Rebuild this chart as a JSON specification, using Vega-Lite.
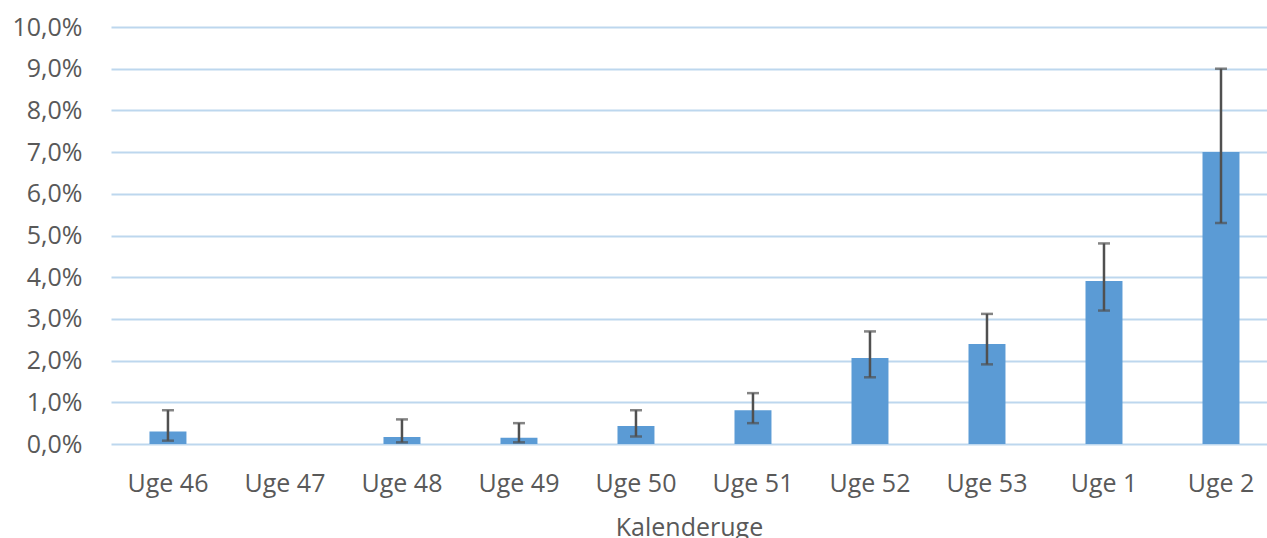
{
  "$schema": "https://vega.github.io/schema/vega-lite/v6.json",
  "autosize": "none",
  "width": 1156,
  "height": 417,
  "padding": {"left": 111, "top": 27, "right": 0, "bottom": 94},
  "background": "white",
  "data": {
    "values": [
      {"uge": "Uge 46", "andel": 0.0030, "lo": 0.0008, "hi": 0.0081},
      {"uge": "Uge 47", "andel": 0.0, "lo": null, "hi": null},
      {"uge": "Uge 48", "andel": 0.0017, "lo": 0.0004, "hi": 0.0059},
      {"uge": "Uge 49", "andel": 0.0015, "lo": 0.0004, "hi": 0.0050},
      {"uge": "Uge 50", "andel": 0.0043, "lo": 0.0018, "hi": 0.0081},
      {"uge": "Uge 51", "andel": 0.0081, "lo": 0.0050, "hi": 0.0122},
      {"uge": "Uge 52", "andel": 0.0206, "lo": 0.0160, "hi": 0.0270},
      {"uge": "Uge 53", "andel": 0.0240, "lo": 0.0191, "hi": 0.0312},
      {"uge": "Uge 1", "andel": 0.0391, "lo": 0.0320, "hi": 0.0481},
      {"uge": "Uge 2", "andel": 0.0700, "lo": 0.0530, "hi": 0.0900}
    ]
  },
  "encoding": {
    "x": {
      "field": "uge",
      "type": "nominal",
      "sort": null,
      "title": "Kalenderuge",
      "scale": {"paddingInner": 0.684, "paddingOuter": 0.282, "align": 0.583},
      "axis": {
        "labelAngle": 0,
        "ticks": false,
        "domain": false,
        "labelPadding": 27,
        "titlePadding": 19
      }
    }
  },
  "layer": [
    {
      "mark": {"type": "bar", "color": "#5b9bd5"},
      "encoding": {
        "y": {
          "field": "andel",
          "type": "quantitative",
          "title": null,
          "scale": {"domain": [0, 0.1], "nice": false},
          "axis": {
            "values": [0, 0.01, 0.02, 0.03, 0.04, 0.05, 0.06, 0.07, 0.08, 0.09, 0.1],
            "labelExpr": "replace(format(datum.value, '.1%'), '.', ',')",
            "ticks": false,
            "domain": false,
            "labelPadding": 29,
            "gridColor": "#bdd7ee",
            "gridWidth": 2,
            "gridOpacity": 1
          }
        }
      }
    },
    {
      "transform": [{"filter": "datum.lo != null"}],
      "mark": {"type": "rule", "color": "#505050", "strokeWidth": 2.5},
      "encoding": {
        "y": {"field": "lo", "type": "quantitative"},
        "y2": {"field": "hi"}
      }
    },
    {
      "transform": [{"filter": "datum.lo != null"}],
      "mark": {"type": "tick", "color": "#505050", "thickness": 2.5, "size": 12, "orient": "horizontal"},
      "encoding": {"y": {"field": "lo", "type": "quantitative"}}
    },
    {
      "transform": [{"filter": "datum.hi != null"}],
      "mark": {"type": "tick", "color": "#505050", "thickness": 2.5, "size": 12, "orient": "horizontal"},
      "encoding": {"y": {"field": "hi", "type": "quantitative"}}
    }
  ],
  "config": {
    "view": {"stroke": null},
    "font": "Open Sans",
    "axis": {
      "labelFont": "Open Sans",
      "labelFontSize": 25,
      "labelColor": "#595959",
      "titleFont": "Open Sans",
      "titleFontSize": 25,
      "titleFontWeight": "normal",
      "titleColor": "#595959",
      "grid": false
    },
    "axisY": {"grid": true}
  }
}
